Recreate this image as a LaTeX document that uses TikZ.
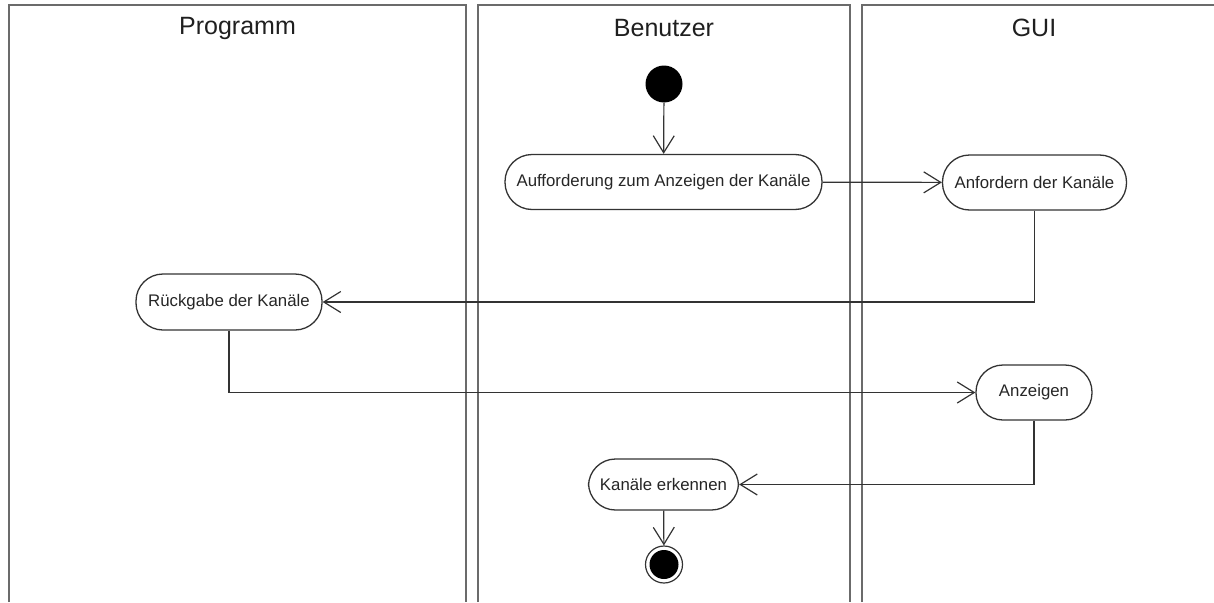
\documentclass[tikz,border=0pt]{standalone}
\usepackage{fontspec}
\setmainfont{Liberation Sans}
\usetikzlibrary{arrows.meta}
\begin{document}
\begin{tikzpicture}[x=1pt,y=-1pt,
  lane/.style={draw=black!58,line width=2.4pt},
  lanetitle/.style={font=\fontsize{25}{29}\selectfont,text=black!88},
  activity/.style={draw=black!80,line width=1.3pt,rounded corners=27pt,
    minimum height=55pt,inner sep=0pt,fill=white,
    font=\fontsize{16.8}{20}\selectfont,text=black!85},
  flow/.style={draw=black!80,line width=1.2pt,
    -{Straight Barb[length=17pt,width=21pt,line width=1.2pt]}},
]
\useasboundingbox (0,0) rectangle (1214,602);

% swimlanes
\draw[lane] (9,602) -- (9,5) -- (466,5) -- (466,602);
\draw[lane] (478,602) -- (478,5) -- (850,5) -- (850,602);
\draw[lane] (862,602) -- (862,5) -- (1214,5);
\node[lanetitle] (tprog) at (237.5,28) {Programm};
\node[lanetitle] (tben) at (664,28) {Benutzer};
\node[lanetitle] (tgui) at (1034,28) {GUI};

% start and end states
\node[circle,fill=black,minimum size=37pt,inner sep=0pt] (start) at (664,84) {};
\node[circle,draw=black!80,line width=1.2pt,minimum size=37pt,inner sep=0pt] (endring) at (664,564.5) {};
\node[circle,fill=black,minimum size=29pt,inner sep=0pt] (enddot) at (664,564.5) {};

% activities
\node[activity,minimum width=317pt] (auff) at (663.5,182) {Aufforderung zum Anzeigen der Kanäle};
\node[activity,minimum width=184pt] (anf) at (1034.5,182.5) {Anfordern der Kanäle};
\node[activity,minimum width=186pt,minimum height=56pt] (rueck) at (229,302) {Rückgabe der Kanäle};
\node[activity,minimum width=116pt] (anz) at (1034,392.5) {Anzeigen};
\node[activity,minimum width=150pt,minimum height=51pt] (erk) at (663.5,484.5) {Kanäle erkennen};

% control flow
\draw[flow] (start) -- (auff);
\draw[flow] (auff) -- (anf);
\draw[flow] (anf.south) |- (rueck.east);
\draw[flow] (rueck.south) |- (anz.west);
\draw[flow] (anz.south) |- (erk.east);
\draw[flow] (erk) -- (endring);
\end{tikzpicture}
\end{document}
